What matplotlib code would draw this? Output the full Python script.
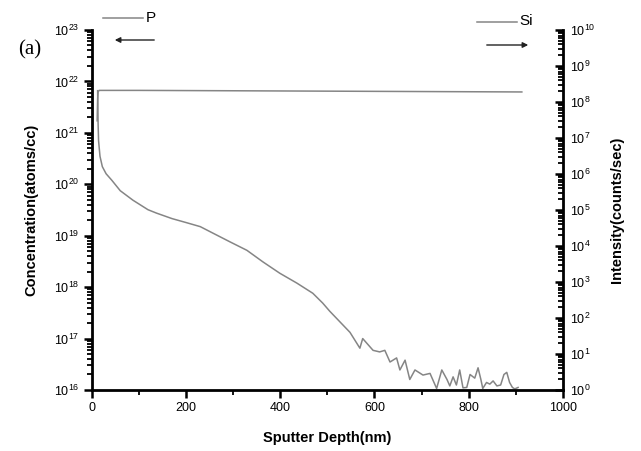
import matplotlib
matplotlib.use("Agg")
import matplotlib.pyplot as plt
from matplotlib.ticker import LogLocator, MultipleLocator, NullFormatter

plt.rcParams["font.family"] = ["Liberation Sans", "DejaVu Sans"]
plt.rcParams["mathtext.default"] = "regular"

# P concentration profile (left axis)
p_depth = [12, 12.5, 13, 14, 17, 22, 30, 42, 60, 87, 119, 137, 170, 200, 230, 257,
           293, 329, 363, 399, 435, 469, 490, 505, 548, 569, 575, 597, 611, 622,
           633, 647, 654, 665, 675, 686, 703, 718, 732, 743, 754, 760, 767, 774,
           781, 788, 796, 803, 813, 820, 826, 830, 838, 845, 852, 860, 868, 875,
           881, 887, 893, 898, 905]
p_conc = [6.6e21, 3.0e21, 1.5e21, 7.0e20, 3.5e20, 2.2e20, 1.6e20, 1.2e20, 7.5e19,
          4.9e19, 3.2e19, 2.75e19, 2.15e19, 1.8e19, 1.5e19, 1.12e19,
          7.6e18, 5.2e18, 3.1e18, 1.86e18, 1.2e18, 7.6e17, 4.9e17, 3.4e17,
          1.32e17, 6.5e16, 1.0e17, 5.9e16, 5.5e16, 5.9e16,
          3.5e16, 4.2e16, 2.45e16, 3.8e16, 1.6e16, 2.45e16, 1.95e16, 2.1e16,
          1.07e16, 2.45e16, 1.6e16, 1.2e16, 1.8e16, 1.25e16,
          2.45e16, 1.1e16, 1.12e16, 2.0e16, 1.7e16, 2.7e16, 1.6e16, 1.07e16,
          1.4e16, 1.3e16, 1.5e16, 1.2e16, 1.25e16, 2.0e16,
          2.2e16, 1.4e16, 1.12e16, 1.05e16, 1.12e16]

# Si intensity (right axis)
si_depth = [11, 12, 13, 15, 100, 300, 500, 700, 913]
si_int = [3.0e7, 1.2e8, 1.9e8, 2.1e8, 2.1e8, 2.05e8, 2.0e8, 1.95e8, 1.9e8]

x_ticks = [0, 200, 400, 600, 800, 1000]

line_col = "#858585"

fig = plt.figure(figsize=(6.41, 4.51), dpi=100)
ax = fig.add_axes([0.1435, 0.1353, 0.7345, 0.7982])
ax2 = ax.twinx()

ax.plot(p_depth, p_conc, color=line_col, lw=1.1)
ax2.plot(si_depth, si_int, color=line_col, lw=1.1)

ax.set_xlim(0, 1000)
ax.set_yscale("log")
ax.set_ylim(1e16, 1e23)
ax2.set_yscale("log")
ax2.set_ylim(1e0, 1e10)

ax.set_xticks(x_ticks)
ax.xaxis.set_minor_locator(MultipleLocator(100))
for a in (ax, ax2):
    a.yaxis.set_major_locator(LogLocator(base=10, numticks=20))
    a.yaxis.set_minor_locator(LogLocator(base=10, subs=range(2, 10), numticks=20))
    a.yaxis.set_minor_formatter(NullFormatter())
    a.spines["top"].set_visible(False)
    for s in a.spines.values():
        s.set_linewidth(2.0)

ax.spines["right"].set_visible(False)
ax2.spines["left"].set_visible(False)
ax2.spines["bottom"].set_visible(False)

ax.tick_params(axis="both", which="major", direction="out", length=6, width=1.8,
               labelsize=9, pad=3)
ax.tick_params(axis="both", which="minor", direction="out", length=3.5, width=1.3)
ax.tick_params(axis="x", which="both", top=False)
ax2.tick_params(axis="y", which="major", direction="in", length=6, width=1.8,
                labelsize=9, pad=5)
ax2.tick_params(axis="y", which="minor", direction="in", length=3.5, width=1.3)

ax.set_xlabel("Sputter Depth(nm)", fontsize=10.5, fontweight="bold", labelpad=12)
ax.set_ylabel("Concentration(atoms/cc)", fontsize=10.5, fontweight="bold", labelpad=11)
ax2.set_ylabel("Intensity(counts/sec)", fontsize=10.5, fontweight="bold", labelpad=11)

# legend-like annotations with direction arrows
fig.add_artist(plt.Line2D([103 / 641, 143 / 641], [1 - 18 / 451, 1 - 18 / 451],
                          color=line_col, lw=1.1))
fig.text(146 / 641, 1 - 18 / 451, "P", fontsize=11, va="center", ha="left")
ax.annotate("", xy=(112 / 641, 1 - 40 / 451), xytext=(157 / 641, 1 - 40 / 451),
            xycoords="figure fraction",
            arrowprops=dict(arrowstyle="-|>", color="#222222", lw=1.0,
                            mutation_scale=8))

fig.add_artist(plt.Line2D([477 / 641, 517 / 641], [1 - 22 / 451, 1 - 22 / 451],
                          color=line_col, lw=1.1))
fig.text(519 / 641, 1 - 21 / 451, "Si", fontsize=11, va="center", ha="left")
ax.annotate("", xy=(531 / 641, 1 - 45 / 451), xytext=(484 / 641, 1 - 45 / 451),
            xycoords="figure fraction",
            arrowprops=dict(arrowstyle="-|>", color="#222222", lw=1.0,
                            mutation_scale=8))

fig.text(18 / 641, 1 - 50 / 451, "(a)", fontsize=15, va="center", ha="left",
         family="Liberation Serif")

fig.savefig("out.png", dpi=100)
